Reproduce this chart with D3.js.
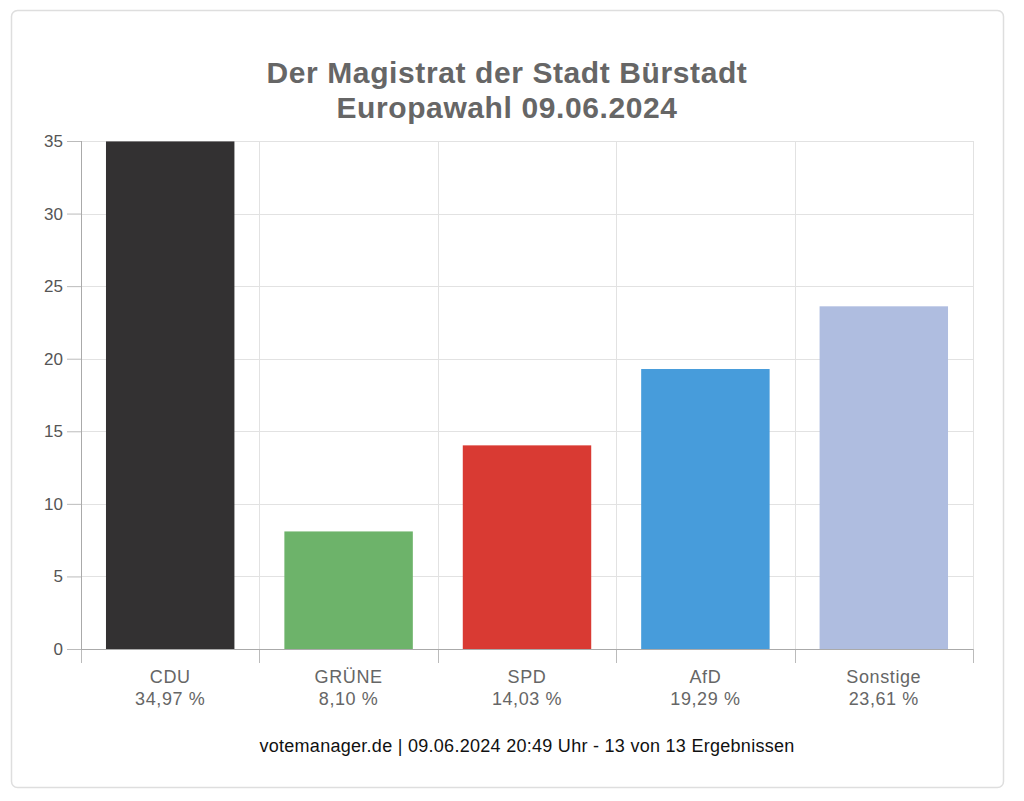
<!DOCTYPE html>
<html>
<head>
<meta charset="utf-8">
<script src="https://cdn.jsdelivr.net/npm/d3@7"></script>
<style>
  html, body { margin: 0; padding: 0; background: #fff; }
  svg { display: block; font-family: "Liberation Sans", Arial, Helvetica, sans-serif; }
</style>
</head>
<body>
<div id="chart"></div>
<script>
const parties = ["CDU", "GRÜNE", "SPD", "AfD", "Sonstige"];
const shares = [34.97, 8.10, 14.03, 19.29, 23.61];
const colours = ["#333132", "#6db36a", "#d93a33", "#479cdb", "#afbde0"];
const yTicks = [0, 5, 10, 15, 20, 25, 30, 35];
const titleLines = ["Der Magistrat der Stadt Bürstadt", "Europawahl 09.06.2024"];
const footer = "votemanager.de | 09.06.2024 20:49 Uhr - 13 von 13 Ergebnissen";

const width = 1024, height = 801;
const margin = {top: 141, right: 51, bottom: 152, left: 81};
const innerW = width - margin.left - margin.right;
const innerH = height - margin.top - margin.bottom;

const fmt = v => v.toFixed(2).replace(".", ",") + " %";

const svg = d3.select("#chart").append("svg")
    .attr("width", width)
    .attr("height", height);

// card frame
svg.append("rect")
    .attr("x", 11.5).attr("y", 10.5)
    .attr("width", 992).attr("height", 777)
    .attr("rx", 6)
    .attr("fill", "#fff")
    .attr("stroke", "#dedede")
    .attr("stroke-width", 1.5);

// title
svg.append("text")
    .attr("text-anchor", "middle")
    .attr("font-weight", "bold")
    .attr("font-size", 30)
    .attr("letter-spacing", 0.6)
    .attr("fill", "#666")
    .selectAll("tspan")
    .data(titleLines)
    .join("tspan")
    .attr("x", 507)
    .attr("y", (d, i) => 83 + i * 35)
    .text(d => d);

const g = svg.append("g").attr("transform", `translate(${margin.left},${margin.top})`);

const x = d3.scaleBand()
    .domain(parties)
    .range([0, innerW])
    .paddingInner(0.28)
    .paddingOuter(0.14);

const y = d3.scaleLinear()
    .domain([0, 35])
    .range([innerH, 0]);

// horizontal grid
g.append("g")
    .selectAll("line")
    .data(yTicks)
    .join("line")
    .attr("x1", 0).attr("x2", innerW)
    .attr("y1", d => Math.round(y(d)) + 0.5)
    .attr("y2", d => Math.round(y(d)) + 0.5)
    .attr("stroke", "#e2e2e2");

// vertical grid at category boundaries
const step = innerW / parties.length;
const bounds = d3.range(parties.length + 1).map(i => i * step);
g.append("g")
    .selectAll("line")
    .data(bounds)
    .join("line")
    .attr("x1", d => Math.round(d) + 0.5)
    .attr("x2", d => Math.round(d) + 0.5)
    .attr("y1", 0).attr("y2", innerH + 14)
    .attr("stroke", (d, i) => i === 0 ? "#aaa" : "#e2e2e2");

// bars
g.append("g")
    .selectAll("rect")
    .data(parties)
    .join("rect")
    .attr("x", d => x(d))
    .attr("width", x.bandwidth())
    .attr("y", (d, i) => y(Math.min(shares[i], 35)))
    .attr("height", (d, i) => innerH - y(Math.min(shares[i], 35)))
    .attr("fill", (d, i) => colours[i]);

// x tick marks below axis
g.append("g")
    .selectAll("line")
    .data(bounds)
    .join("line")
    .attr("x1", d => Math.round(d) + 0.5)
    .attr("x2", d => Math.round(d) + 0.5)
    .attr("y1", innerH).attr("y2", innerH + 14)
    .attr("stroke", "#bbb");

// y axis
const yAxis = g.append("g")
    .call(d3.axisLeft(y).tickValues(yTicks).tickSize(14).tickPadding(4));
yAxis.select(".domain").attr("stroke", "#aaa");
yAxis.selectAll(".tick line").attr("stroke", "#bbb");
yAxis.selectAll(".tick text")
    .attr("fill", "#555")
    .attr("font-size", 17)
    .attr("font-family", "Liberation Sans, Arial, sans-serif");

// x axis baseline
g.append("line")
    .attr("x1", 0).attr("x2", innerW)
    .attr("y1", innerH + 0.5).attr("y2", innerH + 0.5)
    .attr("stroke", "#aaa");

// category labels
const lab = g.append("g")
    .selectAll("text")
    .data(parties)
    .join("text")
    .attr("text-anchor", "middle")
    .attr("font-size", 18)
    .attr("letter-spacing", 0.6)
    .attr("fill", "#666");
lab.append("tspan")
    .attr("x", d => x(d) + x.bandwidth() / 2)
    .attr("y", innerH + 34)
    .text(d => d);
lab.append("tspan")
    .attr("x", d => x(d) + x.bandwidth() / 2)
    .attr("y", innerH + 56)
    .text((d, i) => fmt(shares[i]));

// footer
svg.append("text")
    .attr("x", margin.left + innerW / 2)
    .attr("y", 752)
    .attr("text-anchor", "middle")
    .attr("font-size", 18)
    .attr("letter-spacing", 0.28)
    .attr("fill", "#111")
    .text(footer);
</script>
</body>
</html>
